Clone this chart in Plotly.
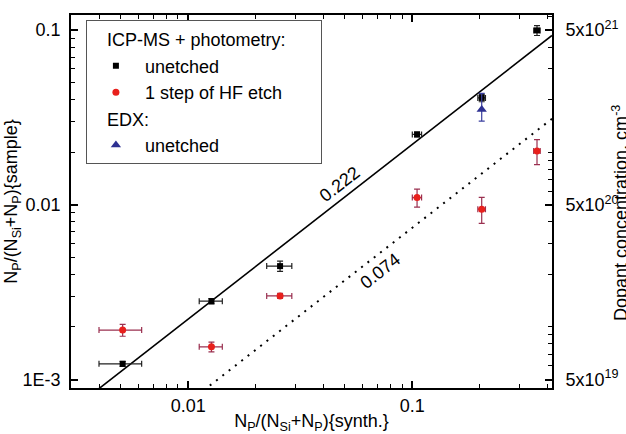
import numpy as np
import plotly.graph_objects as go

# ---- data ----
x_synth = [0.0051, 0.0127, 0.0257, 0.105, 0.204, 0.36]
x_err = [0.0011, 0.0015, 0.0033, 0.005, 0.008, 0.012]

y_unetched = [0.00123, 0.00281, 0.00446, 0.0253, 0.0409, 0.0996]
y_unetched_err = [0.00004, 0.0001, 0.0003, 0.0008, 0.002, 0.0065]

y_hf = [0.00192, 0.00154, 0.00301, 0.0110, 0.00944, 0.0203]
y_hf_err = [0.00015, 0.0001, 0.0001, 0.0013, 0.0016, 0.0033]

x_edx = [0.204]
y_edx = [0.0351]
y_edx_err_plus = [0.0083]
y_edx_err_minus = [0.005]

slopes = [0.222, 0.074]
line_x = [0.003, 0.42]

x_range = [0.003, 0.42]
y_range = [0.000895, 0.122]
conc_factor = 5e22

y_tickvals = [0.001, 0.01, 0.1]
y_ticktext = ["1E-3", "0.01", "0.1"]
x_tickvals = [0.01, 0.1]
x_ticktext = ["0.01", "0.1"]
y2_tickvals = [5e19, 5e20, 5e21]
y2_ticktext = ["5x10<sup>19</sup>", "5x10<sup>20</sup>", "5x10<sup>21</sup>"]
right_title = "Dopant concentration, cm<sup>-3</sup>"

FONT = "Liberation Sans, Arial, sans-serif"
fs = 18
NB = "&nbsp;"

fig = go.Figure()

# fit lines
fig.add_trace(go.Scatter(x=line_x, y=[slopes[0] * v for v in line_x], mode="lines",
                         line=dict(color="black", width=1.6), showlegend=False, hoverinfo="skip"))
fig.add_trace(go.Scatter(x=line_x, y=[slopes[1] * v for v in line_x], mode="lines",
                         line=dict(color="black", width=2, dash="2px,6px"), showlegend=False, hoverinfo="skip"))

fig.add_trace(go.Scatter(
    x=x_synth, y=y_unetched, mode="markers", name="unetched",
    legendgroup="icp",
    legendgrouptitle=dict(text=NB * 3 + "ICP-MS + photometry:" + NB * 5, font=dict(size=fs, color="black")),
    marker=dict(symbol="square", size=6, color="black"),
    error_x=dict(type="data", array=x_err, color="#222222", thickness=1.2, width=3),
    error_y=dict(type="data", array=y_unetched_err, color="#222222", thickness=1.2, width=3),
))
fig.add_trace(go.Scatter(
    x=x_synth, y=y_hf, mode="markers", name="1 step of HF etch",
    legendgroup="icp",
    marker=dict(symbol="circle", size=7, color="#e8201c"),
    error_x=dict(type="data", array=x_err, color="#9a3050", thickness=1.2, width=3),
    error_y=dict(type="data", array=y_hf_err, color="#9a3050", thickness=1.2, width=3),
))
fig.add_trace(go.Scatter(
    x=x_edx, y=y_edx, mode="markers", name="unetched",
    legendgroup="edx",
    legendgrouptitle=dict(text=NB * 3 + "EDX:", font=dict(size=fs, color="black")),
    marker=dict(symbol="triangle-up", size=9, color="#2e3192"),
    error_y=dict(type="data", array=y_edx_err_plus, arrayminus=y_edx_err_minus,
                 color="#3a3f9f", thickness=1.2, width=3),
))

# invisible trace to carry the right axis
fig.add_trace(go.Scatter(x=[x_synth[0]], y=[y_unetched[0] * conc_factor], yaxis="y2",
                         mode="markers", marker=dict(opacity=0), showlegend=False, hoverinfo="skip"))

# slope labels
ang = -38
for s, xl, fac in [(slopes[0], 0.0475, 1.25), (slopes[1], 0.0721, 0.78)]:
    fig.add_annotation(x=np.log10(xl), y=np.log10(s * xl * fac), text=f"{s:.3f}",
                       showarrow=False, textangle=ang, font=dict(size=fs, color="black", family=FONT))

# right axis title (placed further out than the margin allows for axis titles)
fig.add_annotation(xref="paper", yref="paper", x=1.142, y=0.47, text=right_title, textangle=-90,
                   showarrow=False, xanchor="center", yanchor="middle",
                   font=dict(size=fs, color="black", family=FONT))

minor = dict(ticks="inside", ticklen=4, tickwidth=1.2, tickcolor="black", showgrid=False, dtick="D1")
axis_common = dict(type="log", showgrid=False, zeroline=False, showline=True, linecolor="black",
                   linewidth=1.8, ticks="inside", ticklen=7, tickwidth=1.5, tickcolor="black",
                   tickfont=dict(size=fs, color="black", family=FONT), minor=minor, automargin=False)

fig.update_layout(
    width=626, height=434,
    margin=dict(l=71, r=74, t=15, b=46),
    paper_bgcolor="white", plot_bgcolor="white",
    font=dict(family=FONT, size=fs, color="black"),
    xaxis=dict(**axis_common, range=[np.log10(x_range[0]), np.log10(x_range[1])],
               tickvals=x_tickvals, ticktext=x_ticktext, mirror="ticks",
               title=dict(text="N<sub>P</sub>/(N<sub>Si</sub>+N<sub>P</sub>){synth.}", standoff=0,
                          font=dict(size=fs, family=FONT))),
    yaxis=dict(**axis_common, range=[np.log10(y_range[0]), np.log10(y_range[1])],
               tickvals=y_tickvals, ticktext=y_ticktext, ticklabelstandoff=5,
               title=dict(text="N<sub>P</sub>/(N<sub>Si</sub>+N<sub>P</sub>){sample}", standoff=0,
                          font=dict(size=fs, family=FONT))),
    yaxis2=dict(**axis_common, overlaying="y", side="right",
                range=[np.log10(y_range[0] * conc_factor), np.log10(y_range[1] * conc_factor)],
                tickvals=y2_tickvals, ticktext=y2_ticktext, ticklabelstandoff=8),
    legend=dict(x=0.031, y=0.986, xanchor="left", yanchor="top", bgcolor="white",
                bordercolor="#555555", borderwidth=1, font=dict(size=fs, color="black", family=FONT),
                traceorder="grouped", tracegroupgap=0, itemwidth=48),
    showlegend=True,
)

fig.write_html("out.html", config={"displayModeBar": False},
               post_script="document.body.style.margin='0';document.body.style.overflow='hidden';")
